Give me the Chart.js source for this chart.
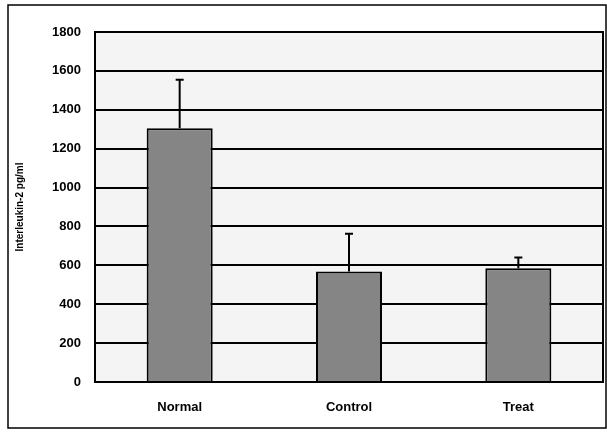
<!DOCTYPE html>
<html>
<head>
<meta charset="utf-8">
<script src="https://cdn.jsdelivr.net/npm/chart.js@4"></script>
<style>
  html, body { margin: 0; padding: 0; background: #fff; }
  #wrap { width: 607px; height: 434px; position: relative; }
</style>
</head>
<body>
<div id="wrap"><canvas id="chartResults"></canvas></div>
<script>
'use strict';

// Data.
const groups = ['Normal', 'Control', 'Treat'];
const meanValues = [1305, 568, 585];
const errorTops = [1555, 762, 640];
const yTicks = [0, 200, 400, 600, 800, 1000, 1200, 1400, 1600, 1800];

// Draws the page frame, the plot border and the upward error bars.
const extras = {
  id: 'extras',
  beforeDraw(chart) {
    const ctx = chart.ctx;
    const a = chart.chartArea;
    ctx.save();
    ctx.fillStyle = '#f4f4f4';
    ctx.fillRect(a.left, a.top, a.right - a.left, a.bottom - a.top);
    ctx.restore();
  },
  afterDraw(chart) {
    const ctx = chart.ctx;
    const a = chart.chartArea;
    const yScale = chart.scales.y;
    const meta = chart.getDatasetMeta(0);
    ctx.save();
    ctx.strokeStyle = '#000';
    ctx.lineWidth = 2;
    ctx.strokeRect(a.left, a.top, a.right - a.left, a.bottom - a.top);
    ctx.lineWidth = 1.5;
    ctx.strokeRect(8, 5, 598, 423);

    ctx.lineWidth = 2;
    meta.data.forEach((bar, i) => {
      const yTop = yScale.getPixelForValue(errorTops[i]);
      const yMean = yScale.getPixelForValue(meanValues[i]);
      ctx.beginPath();
      ctx.moveTo(bar.x, yMean);
      ctx.lineTo(bar.x, yTop);
      ctx.moveTo(bar.x - 4, yTop);
      ctx.lineTo(bar.x + 4, yTop);
      ctx.stroke();
    });
    ctx.restore();
  }
};

const data = {
  labels: groups,
  datasets: [{
    data: meanValues,
    backgroundColor: '#858585',
    borderColor: '#000',
    borderWidth: 2,
    categoryPercentage: 1,
    barPercentage: 0.39
  }]
};

const config = {
  type: 'bar',
  data: data,
  plugins: [extras],
  options: {
    responsive: true,
    maintainAspectRatio: false,
    animation: false,
    layout: { padding: { left: 14, top: 32, right: 4, bottom: 0 } },
    plugins: { legend: { display: false }, tooltip: { enabled: false } },
    scales: {
      x: {
        grid: { display: false, drawTicks: false },
        border: { display: false },
        ticks: {
          color: '#000',
          padding: 18,
          font: { family: 'Liberation Sans', size: 13, weight: 'bold' }
        },
        afterFit(scale) { scale.height = 52; }
      },
      y: {
        min: 0,
        max: 1800,
        afterBuildTicks(scale) { scale.ticks = yTicks.map(v => ({ value: v })); },
        grid: { color: '#000', lineWidth: 2, drawTicks: false },
        border: { display: false },
        ticks: {
          color: '#000',
          padding: 14,
          callback: (value) => String(value),
          font: { family: 'Liberation Sans', size: 13, weight: 'bold' }
        },
        title: {
          display: true,
          text: 'Interleukin-2 pg/ml',
          color: '#000',
          padding: { top: 0, bottom: 4 },
          font: { family: 'Liberation Sans', size: 10, weight: 'bold' }
        },
        afterFit(scale) { scale.width = 81; }
      }
    }
  }
};

const chartResults = new Chart(document.getElementById('chartResults'), config);
</script>
</body>
</html>
